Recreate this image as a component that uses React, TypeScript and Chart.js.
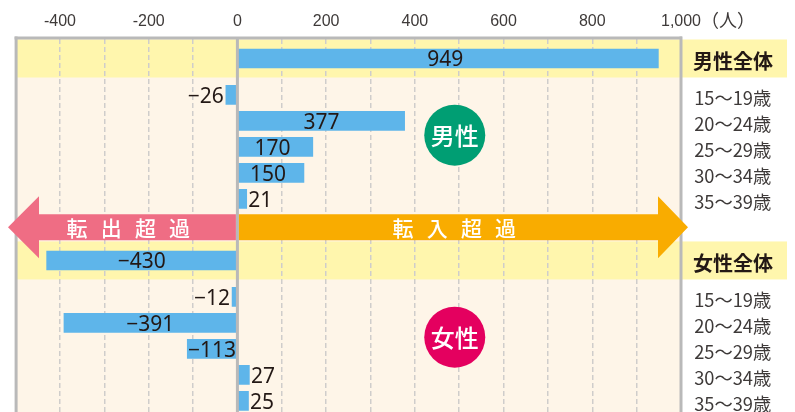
import React, { useEffect, useRef } from "react";
import { Chart, registerables } from "chart.js";

Chart.register(...registerables);

const rowLabels = ["男性全体", "15～19歳", "20～24歳", "25～29歳", "30～34歳", "35～39歳", "女性全体", "15～19歳", "20～24歳", "25～29歳", "30～34歳", "35～39歳"];
const netMigration = [949, -26, 377, 170, 150, 21, -430, -12, -391, -113, 27, 25];
// Row order along the linear category-like axis (in row units, with group gaps)
const rowSlots = [0, 1.4, 2.4, 3.4, 4.4, 5.4, 7.77, 9.17, 10.17, 11.17, 12.17, 13.17];
const totalRows = [0, 6];
const xTickMin = -500;
const xTickMax = 1000;
const unitLabel = "（人）";
const arrowOut = "転出超過";
const arrowIn = "転入超過";

const JP = '"Noto Sans CJK JP"';
const GRAY = "#b9b9b9";

const chartPlugin = {
  id: "decor",
  beforeDraw(chart: any) {
    const { ctx, chartArea: a, scales } = chart;
    const y = scales.y;
    ctx.save();
    ctx.fillStyle = "#fef5e8";
    ctx.fillRect(a.left, a.top, a.right - a.left, a.bottom - a.top);
    ctx.fillStyle = "#fff6ad";
    totalRows.forEach((r) => {
      const c = y.getPixelForValue(rowSlots[r]);
      ctx.fillRect(a.left, c - 19, 787 - a.left, 38);
    });
    ctx.restore();
  },
  afterDatasetsDraw(chart: any) {
    const { ctx, chartArea: a, scales } = chart;
    const x = scales.x;
    const y = scales.y;
    const zero = x.getPixelForValue(0);
    ctx.save();
    // frame + zero line
    ctx.fillStyle = GRAY;
    ctx.fillRect(a.left - 1, a.top - 2.5, 3, a.bottom - a.top + 2.5);
    ctx.fillRect(a.right - 1.5, a.top - 2.5, 3, a.bottom - a.top + 2.5);
    ctx.fillRect(a.left - 1, a.top - 2.5, a.right - a.left + 2, 3);
    ctx.fillRect(zero - 1.5, a.top, 3, a.bottom - a.top);

    // value labels
    const meta = chart.getDatasetMeta(0);
    ctx.fillStyle = "#231815";
    ctx.font = `21px "Noto Sans"`;
    ctx.textBaseline = "middle";
    netMigration.forEach((v, i) => {
      const el = meta.data[i];
      const text = v < 0 ? "−" + Math.abs(v) : String(v);
      const py = el.y + 2;
      if (Math.abs(v) >= 100) {
        ctx.textAlign = "center";
        const shift = v > 0 && v < 200 ? -3 : v > 500 ? -3 : 0;
        ctx.fillText(text, (el.x + el.base) / 2 + shift, py);
      } else if (v < 0) {
        ctx.textAlign = "right";
        ctx.fillText(text, el.x - 2, py);
      } else {
        ctx.textAlign = "left";
        ctx.fillText(text, el.x + 1.5, py);
      }
    });

    // arrows
    const cy = y.getPixelForValue(6.49);
    const drawArrow = (from: number, baseX: number, tipX: number, color: string) => {
      ctx.fillStyle = color;
      ctx.beginPath();
      ctx.moveTo(from, cy - 13);
      ctx.lineTo(baseX, cy - 13);
      ctx.lineTo(baseX, cy - 31);
      ctx.lineTo(tipX, cy);
      ctx.lineTo(baseX, cy + 31);
      ctx.lineTo(baseX, cy + 13);
      ctx.lineTo(from, cy + 13);
      ctx.closePath();
      ctx.fill();
    };
    drawArrow(zero - 1.5, 39, 8, "#ef6d84");
    drawArrow(zero + 1.5, 658, 688, "#f9ac00");
    ctx.fillStyle = "#fff";
    ctx.font = `500 21px ${JP}`;
    ctx.textAlign = "center";
    [...arrowOut].forEach((ch, i) => ctx.fillText(ch, 77 + i * 34.2, cy + 1));
    [...arrowIn].forEach((ch, i) => ctx.fillText(ch, 403 + i * 34.2, cy + 1));

    // gender badges
    const badgeX = x.getPixelForValue(490);
    [
      { label: "男性", slot: 2.95, color: "#009e73" },
      { label: "女性", slot: 10.72, color: "#e4005f" },
    ].forEach((b) => {
      const by = y.getPixelForValue(b.slot);
      ctx.fillStyle = b.color;
      ctx.beginPath();
      ctx.arc(badgeX, by, 30.5, 0, Math.PI * 2);
      ctx.fill();
      ctx.fillStyle = "#fff";
      ctx.font = `500 24px ${JP}`;
      ctx.fillText(b.label, badgeX, by + 1);
    });

    // axis unit
    ctx.fillStyle = "#3e3a39";
    ctx.font = `18px ${JP}`;
    ctx.textAlign = "left";
    ctx.fillText(unitLabel, 701, 20);
    ctx.restore();
  },
};

export default function App() {
  const ref = useRef<HTMLCanvasElement>(null);
  useEffect(() => {
    document.body.style.margin = "0";
    const chart = new Chart(ref.current as HTMLCanvasElement, {
      type: "bar",
      data: {
        datasets: [
          {
            data: netMigration.map((v, i) => ({ x: v, y: rowSlots[i] })),
            backgroundColor: "#5eb5ea",
            barThickness: 19,
            borderWidth: 0,
          },
        ],
      },
      options: {
        indexAxis: "y",
        animation: false,
        responsive: false,
        layout: { padding: { left: 15.6, top: 0, right: 0, bottom: 0 } },
        plugins: { legend: { display: false }, tooltip: { enabled: false } },
        scales: {
          x: {
            type: "linear",
            position: "top",
            min: xTickMin,
            max: xTickMax,
            afterFit: (s: any) => {
              s.height = 39;
              s.paddingLeft = 0;
              s.paddingRight = 0;
            },
            border: { display: false, dash: [5, 3] },
            grid: {
              drawTicks: false,
              lineWidth: 1.5,
              color: (c: any) =>
                c.tick && [xTickMin, 0, xTickMax].includes(c.tick.value) ? "rgba(0,0,0,0)" : "#cfcdcb",
            },
            ticks: {
              stepSize: 100,
              autoSkip: false,
              maxRotation: 0,
              padding: 8,
              color: "#3e3a39",
              font: { family: '"Liberation Sans"', size: 16 },
              callback: (v: any) => {
                if (v % 200 !== 0) return "";
                return v === 1000 ? "1,000" : String(v);
              },
            },
          },
          y: {
            type: "linear",
            position: "right",
            reverse: true,
            offset: false,
            min: -0.75,
            max: 13.6,
            afterBuildTicks: (s: any) => {
              s.ticks = rowSlots.map((value) => ({ value }));
            },
            afterFit: (s: any) => {
              s.width = 114;
              s.paddingTop = 0;
              s.paddingBottom = 0;
            },
            border: { display: false },
            grid: { display: false, drawTicks: false, offset: false },
            ticks: {
              autoSkip: false,
              crossAlign: "near",
              padding: 12,
              labelOffset: 3,
              color: (c: any) => (totalRows.includes(c.index) ? "#231815" : "#3e3a39"),
              font: (c: any) =>
                totalRows.includes(c.index)
                  ? { family: JP, size: 20, weight: "bold" }
                  : { family: JP, size: 18.3, weight: "normal" },
              callback: (_v: any, i: number) => (totalRows.includes(i) ? rowLabels[i] : "\u200a" + rowLabels[i]),
            },
          },
        },
      },
      plugins: [chartPlugin],
    } as any);
    return () => chart.destroy();
  }, []);
  return (
    <div style={{ width: 795, height: 412, overflow: "hidden" }}>
      <canvas ref={ref} width={795} height={412} style={{ display: "block" }} />
    </div>
  );
}
